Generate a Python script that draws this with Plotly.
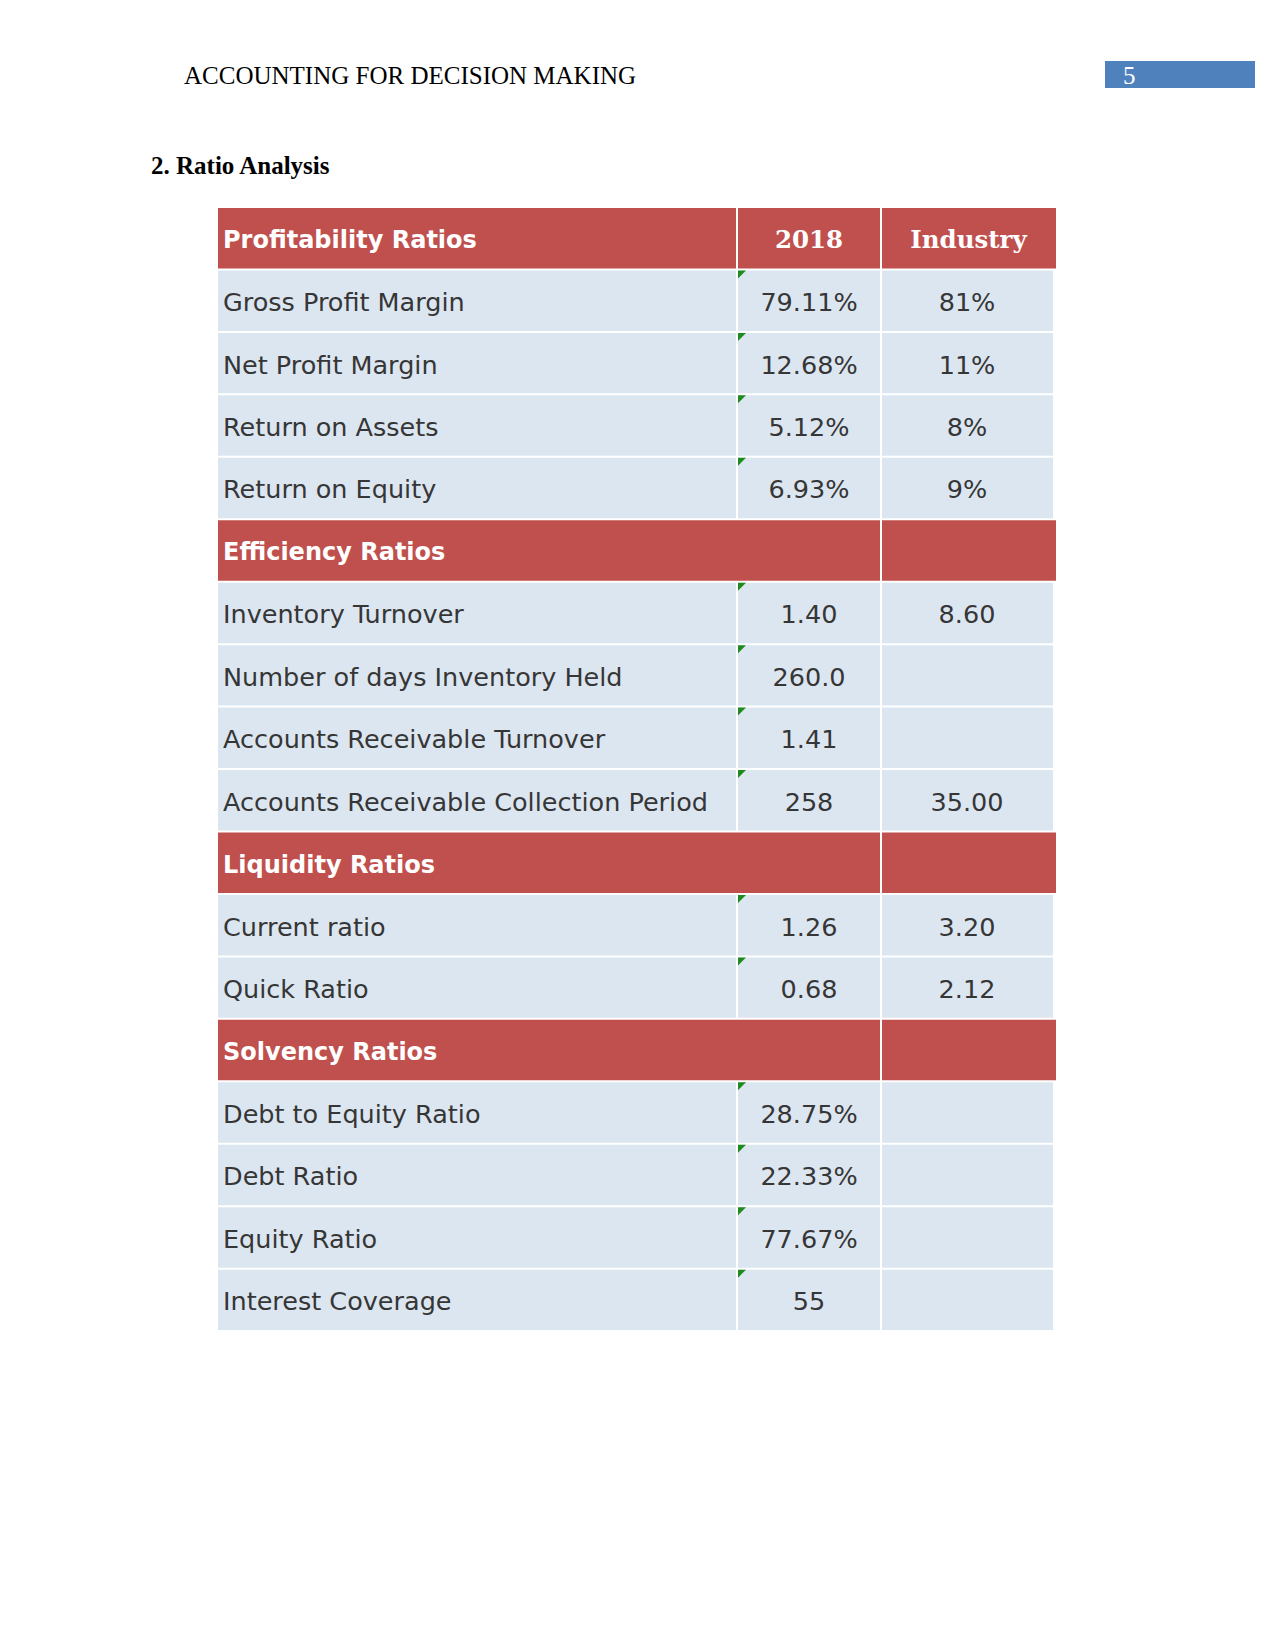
import plotly.graph_objects as go

# ---------------- data ----------------
header_title = "ACCOUNTING FOR DECISION MAKING"
page_number = "5"
section_heading = "2. Ratio Analysis"
col_headers = ["2018", "Industry"]

sections = ["Profitability Ratios", "Efficiency Ratios", "Liquidity Ratios", "Solvency Ratios"]
profitability_labels = ["Gross Profit Margin", "Net Profit Margin", "Return on Assets", "Return on Equity"]
profitability_2018 = ["79.11%", "12.68%", "5.12%", "6.93%"]
profitability_industry = ["81%", "11%", "8%", "9%"]
efficiency_labels = ["Inventory Turnover", "Number of days Inventory Held",
                     "Accounts Receivable Turnover", "Accounts Receivable Collection Period"]
efficiency_2018 = ["1.40", "260.0", "1.41", "258"]
efficiency_industry = ["8.60", "", "", "35.00"]
liquidity_labels = ["Current ratio", "Quick Ratio"]
liquidity_2018 = ["1.26", "0.68"]
liquidity_industry = ["3.20", "2.12"]
solvency_labels = ["Debt to Equity Ratio", "Debt Ratio", "Equity Ratio", "Interest Coverage"]
solvency_2018 = ["28.75%", "22.33%", "77.67%", "55"]
solvency_industry = ["", "", "", ""]

groups = [
    (sections[0], profitability_labels, profitability_2018, profitability_industry),
    (sections[1], efficiency_labels, efficiency_2018, efficiency_industry),
    (sections[2], liquidity_labels, liquidity_2018, liquidity_industry),
    (sections[3], solvency_labels, solvency_2018, solvency_industry),
]

# ---------------- layout geometry ----------------
W, H = 1275, 1651
BODY_MARGIN = 8  # default page margin around the plot div
RED = "#C0504D"
BLUE = "#DCE6F1"
TXT = "#363636"
x0, x1, x2, x3 = 218, 737, 881, 1056
top = 208
rh = 62.45
gap = 2
dy = 4  # text baseline adjustment

shapes = []
texts_body = dict(x=[], y=[], t=[])
texts_val = dict(x=[], y=[], t=[])
texts_sec = dict(x=[], y=[], t=[])
texts_colh = dict(x=[], y=[], t=[])

def rect(xa, xb, ya, yb, color):
    shapes.append(dict(type="rect", xref="x", yref="y", x0=xa, x1=xb, y0=ya, y1=yb,
                       fillcolor=color, line=dict(width=0), layer="below"))

row = 0
for gi, (sec, labels, v18, vind) in enumerate(groups):
    ya = top + row * rh
    yb = ya + rh - gap
    yc = (ya + yb) / 2
    if gi == 0:
        rect(x0, x1 - 1, ya, yb, RED)
        rect(x1 + 1, x2 - 1, ya, yb, RED)
        rect(x2 + 1, x3, ya, yb, RED)
        texts_colh["x"] += [(x1 + x2) / 2, (x2 + x3) / 2]
        texts_colh["y"] += [yc + dy, yc + dy]
        texts_colh["t"] += col_headers
    else:
        rect(x0, x2 - 1, ya, yb, RED)
        rect(x2 + 1, x3, ya, yb, RED)
    texts_sec["x"].append(x0 + 5)
    texts_sec["y"].append(yc + dy)
    texts_sec["t"].append(sec)
    row += 1
    for lab, a, b in zip(labels, v18, vind):
        ya = top + row * rh
        yb = ya + rh - gap
        yc = (ya + yb) / 2
        rect(x0, x1 - 1, ya, yb, BLUE)
        rect(x1 + 1, x2 - 1, ya, yb, BLUE)
        rect(x2 + 1, x3 - 3, ya, yb, BLUE)
        texts_body["x"].append(x0 + 5)
        texts_body["y"].append(yc + dy)
        texts_body["t"].append(lab)
        texts_val["x"] += [(x1 + x2) / 2, (x2 + x3 - 3) / 2]
        texts_val["y"] += [yc + dy, yc + dy]
        texts_val["t"] += [a, b]
        # green indicator triangle in the 2018 cell corner
        shapes.append(dict(type="path", xref="x", yref="y",
                           path=f"M {x1+1},{ya} L {x1+9},{ya} L {x1+1},{ya+8} Z",
                           fillcolor="#1E8B1E", line=dict(width=0)))
        row += 1

fig = go.Figure()
fig.add_trace(go.Scatter(x=texts_body["x"], y=texts_body["y"], text=texts_body["t"], mode="text",
                         textposition="middle right",
                         textfont=dict(family="DejaVu Sans", size=25.5, color=TXT), hoverinfo="skip"))
fig.add_trace(go.Scatter(x=texts_val["x"], y=texts_val["y"], text=texts_val["t"], mode="text",
                         textposition="middle center",
                         textfont=dict(family="DejaVu Sans", size=25.5, color=TXT), hoverinfo="skip"))
fig.add_trace(go.Scatter(x=texts_sec["x"], y=texts_sec["y"], text=texts_sec["t"], mode="text",
                         textposition="middle right",
                         textfont=dict(family="DejaVu Sans", size=24, color="white", weight="bold"),
                         hoverinfo="skip"))
fig.add_trace(go.Scatter(x=texts_colh["x"], y=texts_colh["y"], text=texts_colh["t"], mode="text",
                         textposition="middle center",
                         textfont=dict(family="DejaVu Serif", size=24.5, color="white", weight="bold"),
                         hoverinfo="skip"))

# page header
shapes.append(dict(type="rect", xref="x", yref="y", x0=1105, x1=1255, y0=61, y1=88,
                   fillcolor="#4F81BD", line=dict(width=0), layer="below"))

annotations = [
    dict(x=182, y=75, xref="x", yref="y", text=header_title, showarrow=False, xanchor="left",
         yanchor="middle", font=dict(family="Liberation Serif", size=25, color="black")),
    dict(x=1121, y=75, xref="x", yref="y", text=page_number, showarrow=False, xanchor="left",
         yanchor="middle", font=dict(family="Liberation Serif", size=25, color="white")),
    dict(x=149, y=165, xref="x", yref="y", text="<b>" + section_heading + "</b>", showarrow=False,
         xanchor="left", yanchor="middle", font=dict(family="Liberation Serif", size=25, color="black")),
]

m = BODY_MARGIN
fig.update_layout(
    width=W - 2 * m, height=H - 2 * m, margin=dict(l=0, r=0, t=0, b=0),
    paper_bgcolor="white", plot_bgcolor="white", showlegend=False,
    xaxis=dict(range=[m, W - m], visible=False, fixedrange=True),
    yaxis=dict(range=[H - m, m], visible=False, fixedrange=True),
    shapes=shapes, annotations=annotations,
)
fig.write_html("out.html")
